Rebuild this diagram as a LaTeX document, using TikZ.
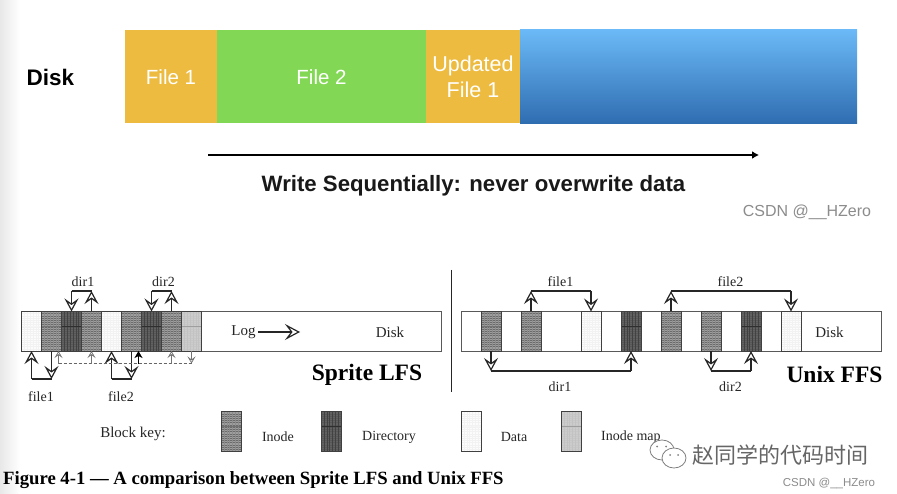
\documentclass[tikz,border=0pt]{standalone}
\usepackage{fontspec}
\setmainfont{Liberation Serif}
\setsansfont{Liberation Sans}
\newfontfamily\cjkf{Noto Sans CJK SC}
\usetikzlibrary{arrows.meta,calc}
\definecolor{orangeblk}{HTML}{EDBB40}
\definecolor{greenblk}{HTML}{82D855}
\definecolor{bluetop}{HTML}{6BB9F6}
\definecolor{bluebot}{HTML}{2F6DB1}
\tikzset{
  x=1pt,y=-1pt,
  seg/.style={anchor=north west,inner sep=0,outer sep=0,minimum height=93.5pt,text=white,font=\sffamily\fontsize{20.5}{26}\selectfont,align=center},
  blk/.style={anchor=north west,inner sep=0,outer sep=0,minimum width=20pt,minimum height=39.5pt,draw=black!75,line width=.9pt},
  hatch/.style n args={3}{path picture={
    \foreach \k in {1,...,17}{\draw[#1,line width=.4pt] ($(path picture bounding box.north west)!\k/18!(path picture bounding box.south west)$)--($(path picture bounding box.north east)!\k/18!(path picture bounding box.south east)$);}
    \foreach \k in {1,...,6}{\draw[#2,line width=.3pt] ($(path picture bounding box.north west)!\k/7!(path picture bounding box.north east)$)--($(path picture bounding box.south west)!\k/7!(path picture bounding box.south east)$);}
    \draw[#3,line width=.4pt] ($(path picture bounding box.north west)!.37!(path picture bounding box.south west)$)--($(path picture bounding box.north east)!.37!(path picture bounding box.south east)$);}},
  inodeb/.style={blk,fill=black!38,hatch={black!58}{black!45}{black!55}},
  dirb/.style={blk,fill=black!62,hatch={black!66}{black!74}{black!82}},
  datab/.style={blk,fill=black!1,hatch={black!5}{black!5}{black!4}},
  imapb/.style={blk,fill=black!20,hatch={black!22}{black!24}{black!38}},
  diskbar/.style={anchor=north west,inner sep=0,outer sep=0,minimum width=420pt,minimum height=39.5pt,draw=black!65,line width=.9pt,fill=white},
  lbl/.style={font=\fontsize{14}{16}\selectfont,text=black!85,inner sep=0},
  big/.style={font=\bfseries\fontsize{23.5}{26}\selectfont,inner sep=0},
  link/.style={draw=black!85,line width=1.2pt},
  larrow/.style={link,-{Stealth[open,length=13pt,width=14pt,inset=5pt,line width=1.2pt]}},
  smallup/.style={draw=black!55,line width=.7pt,-{Stealth[open,length=7pt,width=8pt,inset=3pt,line width=.7pt]}},
  dots/.style={draw=black!60,line width=.7pt,densely dashed},
  wm/.style={text=black!45,inner sep=0},
}
\begin{document}
\begin{tikzpicture}
\useasboundingbox (0,0) rectangle (897,494);
\fill[white] (0,0) rectangle (897,494);
\shade[left color=black!9,right color=white] (0,0) rectangle (20,494);
% top bar
\node[seg,fill=orangeblk,minimum width=92pt] (f1) at (125,30) {File 1};
\node[seg,fill=greenblk,minimum width=209pt] (f2) at (217,30) {File 2};
\node[seg,fill=orangeblk,minimum width=94pt,font=\sffamily\fontsize{21.5}{26}\selectfont] (f3) at (426,30) {Updated\\File 1};
\node[seg,top color=bluetop,bottom color=bluebot,minimum width=337pt] (f4) at (520,30) {};
\node[font=\sffamily\bfseries\fontsize{22.5}{24}\selectfont,inner sep=0] (disktop) at (50.5,77) {Disk};
\coordinate (ws) at (208,155); \coordinate (we) at (759,155);
\draw[line width=1.4pt,-{Latex[length=7pt,width=8pt]}] (ws)--(we);
\node[font=\sffamily\bfseries\fontsize{22.2}{25}\selectfont,inner sep=0,text=black!90] (wt) at (473.5,185.5) {Write Sequentially: never overwrite data};
\node[wm,font=\sffamily\fontsize{16}{18}\selectfont] (c1) at (807,212) {CSDN @\_\_HZero};
% divider
\coordinate (d1) at (451.5,270); \coordinate (d2) at (451.5,392);
\draw[black!85,line width=1.2pt] (d1)--(d2);
% Sprite LFS
\node[diskbar] (lfs) at (21.5,311.5) {};
\node[datab] (a0) at (21.5,311.5) {};
\node[inodeb] (a1) at (41.5,311.5) {};
\node[dirb] (a2) at (61.5,311.5) {};
\node[inodeb] (a3) at (81.5,311.5) {};
\node[datab] (a4) at (101.5,311.5) {};
\node[inodeb] (a5) at (121.5,311.5) {};
\node[dirb] (a6) at (141.5,311.5) {};
\node[inodeb] (a7) at (161.5,311.5) {};
\node[imapb] (a8) at (181.5,311.5) {};
% dir arrows
\coordinate (u1) at (71.5,291); \coordinate (u2) at (91.5,291);
\draw[link] (u1)--(u2);
\draw[larrow] (u1)--(a2.north);
\draw[larrow] (a3.north)--(u2);
\coordinate (u3) at (151.5,291); \coordinate (u4) at (171.5,291);
\draw[link] (u3)--(u4);
\draw[larrow] (u3)--(a6.north);
\draw[larrow] (a7.north)--(u4);
% file arrows
\coordinate (v1) at (31.5,379); \coordinate (v2) at (51.5,379);
\draw[link] (v1)--(v2);
\draw[larrow] (v1)--(a0.south);
\draw[larrow] (a1.south)--(v2);
\coordinate (v3) at (111.5,379); \coordinate (v4) at (131.5,379);
\draw[link] (v3)--(v4);
\draw[larrow] (v3)--(a4.south);
\draw[larrow] (a5.south)--(v4);
% inode map links
\coordinate (m0) at (58.5,363.5); \coordinate (m1) at (91.5,363.5); \coordinate (m2) at (138.5,363.5);
\coordinate (m3) at (171.5,363.5); \coordinate (m4) at (191.5,363.5);
\coordinate (s0) at (58.5,351); \coordinate (s2) at (138.5,351);
\draw[dots] (m0)--(m4);
\draw[smallup] (m0)--(s0);
\draw[smallup] (m1)--(a3.south);
\draw[draw=black,line width=1.2pt,-{Stealth[length=7pt,width=8pt,inset=2pt]}] (m2)--(s2);
\draw[smallup] (m3)--(a7.south);
\draw[smallup] (a8.south)--(m4);
\node[lbl] (ldir1) at (83,282) {dir1};
\node[lbl] (ldir2) at (163.5,282) {dir2};
\node[lbl] (lfile1) at (41,397) {file1};
\node[lbl] (lfile2) at (121,397) {file2};
\node[lbl,font=\fontsize{15}{17}\selectfont] (llog) at (243.5,332) {Log};
\coordinate (logend) at (300,332);
\draw[link,-{Stealth[open,length=15pt,width=16pt,inset=6pt,line width=1.2pt]}] (llog.east)++(2,0)--(logend);
\node[lbl,font=\fontsize{15}{17}\selectfont] (ldisk1) at (390,332) {Disk};
\node[big] (lsprite) at (367,375) {Sprite LFS};
% Unix FFS
\node[diskbar] (ffs) at (461,311.5) {};
\node[inodeb] (b1) at (481,311.5) {};
\node[inodeb] (b2) at (521,311.5) {};
\node[datab] (b3) at (581,311.5) {};
\node[dirb] (b4) at (621,311.5) {};
\node[inodeb] (b5) at (661,311.5) {};
\node[inodeb] (b6) at (701,311.5) {};
\node[dirb] (b7) at (741,311.5) {};
\node[datab] (b8) at (781,311.5) {};
\coordinate (p1) at (531,291); \coordinate (p2) at (591,291);
\draw[link] (p1)--(p2);
\draw[larrow] (b2.north)--(p1);
\draw[larrow] (p2)--(b3.north);
\coordinate (p3) at (671,291); \coordinate (p4) at (791,291);
\draw[link] (p3)--(p4);
\draw[larrow] (b5.north)--(p3);
\draw[larrow] (p4)--(b8.north);
\coordinate (q1) at (491,371); \coordinate (q2) at (631,371);
\draw[link] (q1)--(q2);
\draw[larrow] (b1.south)--(q1);
\draw[larrow] (q2)--(b4.south);
\coordinate (q3) at (711,371); \coordinate (q4) at (751,371);
\draw[link] (q3)--(q4);
\draw[larrow] (b6.south)--(q3);
\draw[larrow] (q4)--(b7.south);
\node[lbl] (rfile1) at (560.5,282) {file1};
\node[lbl] (rfile2) at (730.5,282) {file2};
\node[lbl] (rdir1) at (560,387) {dir1};
\node[lbl] (rdir2) at (730.5,387) {dir2};
\node[lbl,font=\fontsize{15}{17}\selectfont] (rdisk) at (829.5,332) {Disk};
\node[big] (lunix) at (834.5,374) {Unix FFS};
% key
\node[lbl,font=\fontsize{15}{17}\selectfont] (kk) at (133,434) {Block key:};
\node[inodeb,minimum height=40pt] (k1) at (221,411.5) {};
\node[dirb,minimum height=40pt] (k2) at (321,411.5) {};
\node[datab,minimum height=40pt] (k3) at (461,411.5) {};
\node[imapb,minimum height=40pt] (k4) at (561,411.5) {};
\node[lbl] (t1) at (278,437) {Inode};
\node[lbl] (t2) at (389,437) {Directory};
\node[lbl] (t3) at (514,437) {Data};
\node[lbl,anchor=west] (t4) at (601,437) {Inode map};
% caption
\node[anchor=west,inner sep=0,font=\bfseries\fontsize{18.7}{21}\selectfont] (cap) at (3,480.5) {Figure 4-1 — A comparison between Sprite LFS and Unix FFS};
% watermark
\draw[fill=white,draw=black!50,line width=.8pt] (662,450) ellipse (12 and 10);
\draw[fill=white,draw=black!50,line width=.8pt] (674,458) ellipse (12 and 10);
\fill[black!50] (657,446.5) circle (1) (666,446.5) circle (1) (670,455) circle (1) (678,455) circle (1);
\node[wm,font=\cjkf\fontsize{22}{26}\selectfont,text=black!60] (wx) at (780.5,455) {赵同学的代码时间};
\node[wm,font=\sffamily\fontsize{11.5}{13}\selectfont] (c2) at (829,483) {CSDN @\_\_HZero};
\end{tikzpicture}
\end{document}
